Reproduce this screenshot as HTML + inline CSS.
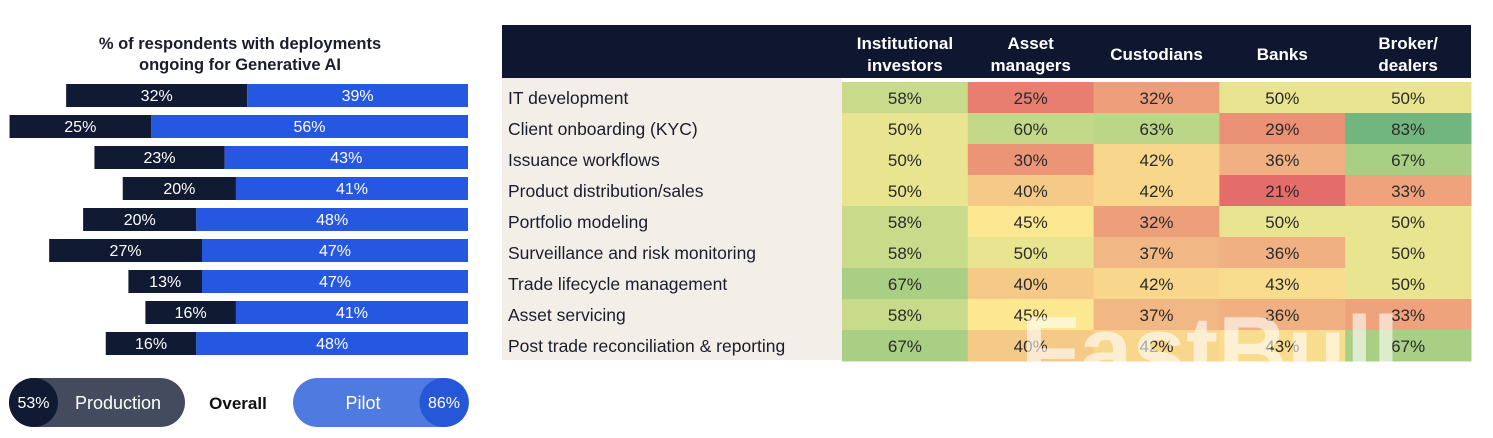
<!DOCTYPE html>
<html><head><meta charset="utf-8">
<style>
body{margin:0;background:#fff;width:1493px;height:438px;overflow:hidden;font-family:"Liberation Sans",sans-serif;}
svg{display:block}
</style></head>
<body>
<svg id="chart" width="1493" height="438">
  <text x="240" y="49" text-anchor="middle" font-size="16.5" font-weight="bold" fill="#1a1d2b">% of respondents with deployments</text>
  <text x="240" y="70" text-anchor="middle" font-size="16.5" font-weight="bold" fill="#1a1d2b">ongoing for Generative AI</text>
  <g id="bars"></g>
  <g>
    <rect x="9" y="378" width="176" height="49" rx="24.5" fill="#454b5e"/>
    <circle cx="33.5" cy="402.5" r="24.5" fill="#111a33"/>
    <text x="33.5" y="408" text-anchor="middle" font-size="16" fill="#fff">53%</text>
    <text x="118" y="409" text-anchor="middle" font-size="18" fill="#fff">Production</text>
  </g>
  <text x="238" y="409" text-anchor="middle" font-size="17" font-weight="bold" fill="#111">Overall</text>
  <g>
    <rect x="293" y="378" width="176" height="49" rx="24.5" fill="#4f7ae0"/>
    <circle cx="444" cy="402.5" r="24.5" fill="#2557d6"/>
    <text x="444" y="408" text-anchor="middle" font-size="16" fill="#fff">86%</text>
    <text x="363" y="409" text-anchor="middle" font-size="18" fill="#fff">Pilot</text>
  </g>
  <rect x="502" y="78" width="340" height="282" fill="#f3eee8"/>
  <rect x="502" y="25" width="969" height="53" fill="#0f1630"/>
  <g id="heat"></g>
  <text x="1210" y="383" text-anchor="middle" font-size="96" font-weight="bold" fill="#fff" fill-opacity="0.6">FastBull</text>
</svg>
<script>
const barProd=[32,25,23,20,20,27,13,16,16];
const barPilot=[39,56,43,41,48,47,47,41,48];
const columns=[["Institutional","investors"],["Asset","managers"],["Custodians"],["Banks"],["Broker/","dealers"]];
const rowLabels=["IT development","Client onboarding (KYC)","Issuance workflows","Product distribution/sales","Portfolio modeling","Surveillance and risk monitoring","Trade lifecycle management","Asset servicing","Post trade reconciliation & reporting"];
const colInst=[58,50,50,50,58,58,67,58,67];
const colAsset=[25,60,30,40,45,50,40,45,40];
const colCust=[32,63,42,42,32,37,42,37,42];
const colBanks=[50,29,36,21,50,36,43,36,43];
const colBroker=[50,83,67,33,50,50,50,33,67];

const NS="http://www.w3.org/2000/svg";
function mk(tag,attrs,parent){const e=document.createElementNS(NS,tag);for(const k in attrs)e.setAttribute(k,attrs[k]);parent.appendChild(e);return e;}
const right=468, pxPer=5.66, rowTop=84, rowStep=31, barH=23;
const xs=v=>v*pxPer;
const bars=document.getElementById('bars');
barProd.forEach((p,i)=>{
  const y=rowTop+i*rowStep;
  const split=right-xs(barPilot[i]);
  const r1=mk('rect',{x:split-xs(p),y:y,width:xs(p),height:barH,fill:'#111a33'},bars);
  
  
  const r2=mk('rect',{x:split,y:y,width:xs(barPilot[i]),height:barH,fill:'#2557e0'},bars);
  
  
  const t1=mk('text',{x:split-xs(p)/2,y:y+17,'text-anchor':'middle','font-size':16,fill:'#fff'},bars);t1.textContent=p+'%';
  
  
  const t2=mk('text',{x:split+xs(barPilot[i])/2,y:y+17,'text-anchor':'middle','font-size':16,fill:'#fff'},bars);t2.textContent=barPilot[i]+'%';
  
  
});

const stops=[[21,[228,108,106]],[30,[235,149,118]],[36,[240,176,130]],[42,[248,215,140]],[45,[252,232,145]],[50,[232,228,143]],[58,[200,219,138]],[63,[188,214,136]],[67,[168,207,131]],[83,[114,182,127]]];
function color(v){
  if(v<=stops[0][0])return 'rgb('+stops[0][1]+')';
  for(let i=1;i<stops.length;i++){if(v<=stops[i][0]){const a=stops[i-1],b=stops[i];const t=(v-a[0])/(b[0]-a[0]);return 'rgb('+a[1].map((c,j)=>Math.round(c+(b[1][j]-c)*t)).join(',')+')';}}
  return 'rgb('+stops[stops.length-1][1]+')';
}
const heat=document.getElementById('heat');
const cols=[colInst,colAsset,colCust,colBanks,colBroker];
const hx0=842, cw=125.8, hy0=82, rh=31;
columns.forEach((c,j)=>{
  const cx=hx0+j*cw+cw/2;
  const t=mk('text',{x:cx,'text-anchor':'middle','font-size':17,'font-weight':'bold',fill:'#fff'},heat);
  
  
  if(c.length===2){mk('tspan',{x:cx,y:49},t).textContent=c[0];mk('tspan',{x:cx,y:71},t).textContent=c[1];}
  else{t.setAttribute('y',60);t.textContent=c[0];}
});
rowLabels.forEach((l,i)=>{
  const y=hy0+i*rh;
  const t=mk('text',{x:508,y:y+22,'font-size':17.5,fill:'#1a1d2b'},heat);t.textContent=l;
  
  
  cols.forEach((col,j)=>{
    const r=mk('rect',{x:hx0+j*cw,y:y,width:cw+0.5,height:rh+0.5,fill:color(col[i])},heat);
    
    
    const tv=mk('text',{x:hx0+j*cw+cw/2,y:y+22,'text-anchor':'middle','font-size':17,fill:'#2a2a2a'},heat);tv.textContent=col[i]+'%';
    
    
  });
});
</script>
</body></html>
